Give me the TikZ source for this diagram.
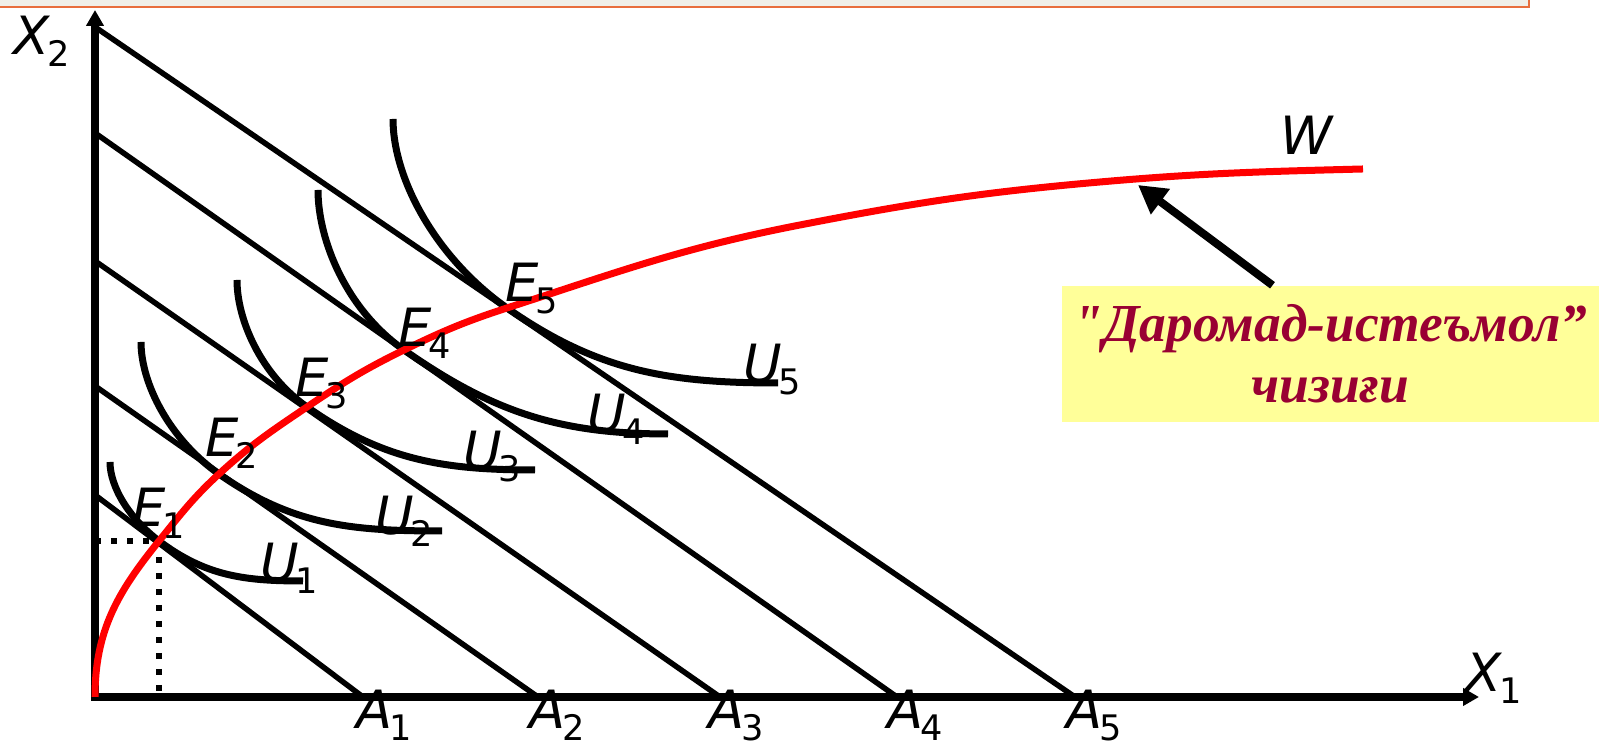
\documentclass[tikz,border=0pt]{standalone}
\usepackage{fontspec}
\setmainfont{DejaVu Sans}
\newfontfamily\notefont{Liberation Serif}
\usetikzlibrary{arrows.meta,calc,positioning}

\definecolor{wred}{RGB}{255,0,0}
\definecolor{notefill}{RGB}{255,255,153}
\definecolor{notetext}{RGB}{153,0,51}
\definecolor{stripfill}{RGB}{240,239,232}
\definecolor{stripline}{RGB}{232,110,60}

% letter with upright lowered index
\newcommand{\idx}[2]{\textit{#1}\kern-1pt\raisebox{-3.4pt}{\fontsize{10}{12}\selectfont #2}}

\tikzset{
  axis/.style={line width=0.075cm, -{Triangle[length=0.16cm,width=0.17cm]}},
  budget/.style={line width=0.055cm},
  indiff/.style={line width=0.07cm},
  wcurve/.style={line width=0.07cm, wred},
  dotline/.style={line width=0.06cm, dash pattern=on 0.06cm off 0.10cm},
  lab/.style={inner sep=0pt, anchor=base west, font=\fontsize{15}{18}\selectfont},
  pointer/.style={line width=0.08cm, -{Triangle[length=0.28cm,width=0.30cm]}},
}

\begin{document}
\begin{tikzpicture}
  \useasboundingbox (-0.95,-0.49) rectangle (15.04,6.97);
  % strip at the top edge
  \fill[stripfill] (-0.95,6.895) rectangle (14.34,6.97);
  \draw[stripline, line width=0.02cm] (-0.95,6.895) -- (14.34,6.895) -- (14.34,6.97);

  \coordinate (O) at (0,0);
  % axes
  \draw[axis] (0,-0.035) -- (0,6.87);
  \draw[axis] (-0.04,0) -- (13.84,0);
  \node[lab] (x2) at (-0.82,6.42) {\idx{X}{2}};
  \node[lab] (x1) at (13.70,0.05) {\idx{X}{1}};

  % budget lines
  \coordinate (B1) at (0,2.02); \coordinate (A1) at (2.68,0);
  \coordinate (B2) at (0,3.11); \coordinate (A2) at (4.43,0);
  \coordinate (B3) at (0,4.36); \coordinate (A3) at (6.25,0);
  \coordinate (B4) at (0,5.64); \coordinate (A4) at (8.02,0);
  \coordinate (B5) at (0,6.70); \coordinate (A5) at (9.80,0);
  \draw[budget] (B1) -- (A1);
  \draw[budget] (B2) -- (A2);
  \draw[budget] (B3) -- (A3);
  \draw[budget] (B4) -- (A4);
  \draw[budget] (B5) -- (A5);
  \node[lab] (a1) at ($(A1)+(-0.07,-0.32)$) {\idx{A}{1}};
  \node[lab] (a2) at ($(A2)+(-0.09,-0.32)$) {\idx{A}{2}};
  \node[lab] (a3) at ($(A3)+(-0.12,-0.32)$) {\idx{A}{3}};
  \node[lab] (a4) at ($(A4)+(-0.10,-0.32)$) {\idx{A}{4}};
  \node[lab] (a5) at ($(A5)+(-0.09,-0.32)$) {\idx{A}{5}};

  % tangency points
  \coordinate (E1) at (0.64,1.56);
  \coordinate (E2) at (1.24,2.23);
  \coordinate (E3) at (2.12,2.90);
  \coordinate (E4) at (3.09,3.47);
  \coordinate (E5) at (4.12,3.89);

  % indifference curves
  \coordinate (S1) at (0.15,2.35); \coordinate (T1) at (2.08,1.16);
  \coordinate (S2) at (0.46,3.55); \coordinate (T2) at (3.47,1.66);
  \coordinate (S3) at (1.42,4.17); \coordinate (T3) at (4.40,2.27);
  \coordinate (S4) at (2.23,5.07); \coordinate (T4) at (5.73,2.63);
  \coordinate (S5) at (2.98,5.78); \coordinate (T5) at (6.83,3.14);
  \draw[indiff] (S1) to[out=-90,in=143,out looseness=0.7] (E1) to[out=-37,in=180] (T1);
  \draw[indiff] (S2) to[out=-90,in=145,out looseness=0.7] (E2) to[out=-35,in=180] (T2);
  \draw[indiff] (S3) to[out=-90,in=145,out looseness=0.7] (E3) to[out=-35,in=180] (T3);
  \draw[indiff] (S4) to[out=-90,in=145,out looseness=0.7] (E4) to[out=-35,in=180] (T4);
  \draw[indiff] (S5) to[out=-90,in=145,out looseness=0.7] (E5) to[out=-35,in=180] (T5);
  \node[lab] (u1) at (1.65,1.15) {\idx{U}{1}};
  \node[lab] (u2) at (2.80,1.62) {\idx{U}{2}};
  \node[lab] (u3) at (3.68,2.27) {\idx{U}{3}};
  \node[lab] (u4) at (4.92,2.64) {\idx{U}{4}};
  \node[lab] (u5) at (6.48,3.14) {\idx{U}{5}};

  % dotted projections of E1
  \draw[dotline] (O |- E1) -- (E1) -- (E1 |- O);

  % income-consumption curve W
  \coordinate (W1) at (7.05,4.72);
  \coordinate (W2) at (10.05,5.15);
  \coordinate (W3) at (12.68,5.28);
  \draw[wcurve] (O) to[out=90,in=231] (E1) to[out=51,in=222.6] (E2)
    to[out=42.6,in=214] (E3) to[out=34,in=206] (E4) to[out=26,in=198] (E5)
    to[out=18,in=191] (W1) to[out=11,in=185] (W2) to[out=5,in=181.5] (W3);
  \node[lab] (w) at (11.85,5.42) {\textit{W}};
  \node[lab] (e1) at (0.37,1.70) {\idx{E}{1}};
  \node[lab] (e2) at (1.10,2.40) {\idx{E}{2}};
  \node[lab] (e3) at (2.00,3.00) {\idx{E}{3}};
  \node[lab] (e4) at (3.03,3.50) {\idx{E}{4}};
  \node[lab] (e5) at (4.10,3.95) {\idx{E}{5}};

  % note box with pointer
  \node[fill=notefill, minimum width=5.37cm, minimum height=1.36cm, inner sep=0pt,
    align=center, text=notetext, font=\notefont\bfseries\itshape\fontsize{15.2}{17.3}\selectfont]
    (note) at (12.355,3.43) {"Даромад-истеъмол”\\чизиғи};
  \coordinate (Wp) at (10.43,5.12);
  \draw[pointer] ([xshift=-0.58cm]note.north) -- (Wp);
\end{tikzpicture}
\end{document}
